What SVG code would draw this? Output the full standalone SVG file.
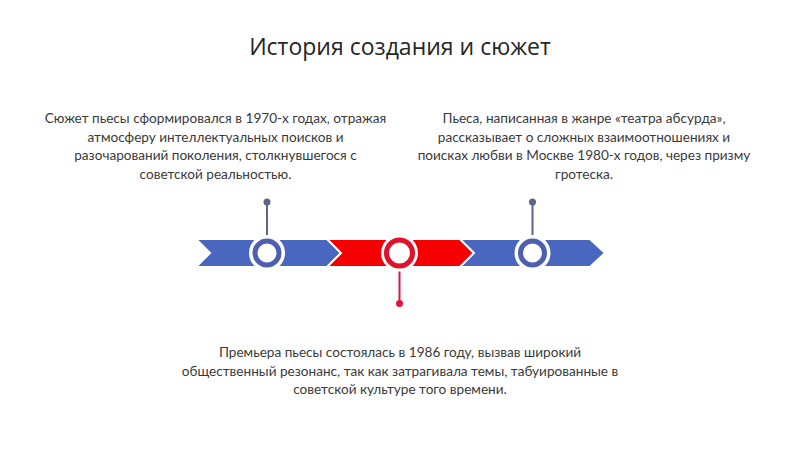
<svg xmlns="http://www.w3.org/2000/svg" width="800" height="449" viewBox="0 0 800 449">
<style>
.title{font-family:"Open Sans","Noto Sans",sans-serif;font-size:23px;fill:#262626;text-anchor:middle}
.body{font-family:Lato,"Noto Sans",sans-serif;font-size:13.6px;fill:#3a3a3a;text-anchor:middle}
.blue{fill:#4a67bf}
.red{fill:#f40000}
.seg{stroke:#ffffff;stroke-width:2;stroke-linejoin:miter}
.halo{fill:#ffffff}
.ringB{fill:#ffffff;stroke:#4f5fb0;stroke-width:5}
.ringR{fill:#ffffff;stroke:#e0112b;stroke-width:5}
.stemB{stroke:#5b6787;stroke-width:2}
.stemR{stroke:#e0143c;stroke-width:2}
</style>
<rect width="800" height="449" fill="#ffffff"/>
<text class="title" x="400" y="55">История создания и сюжет</text>
<g id="connectors">
<line class="stemB" x1="267" y1="202" x2="267" y2="240"/>
<circle cx="267" cy="202" r="3.5" fill="#5b6787"/>
<line class="stemR" x1="399.5" y1="266" x2="399.5" y2="303.5"/>
<circle cx="399.5" cy="303.5" r="3.5" fill="#e0143c"/>
<line class="stemB" x1="532.5" y1="202" x2="532.5" y2="240"/>
<circle cx="532.5" cy="202" r="3.5" fill="#5b6787"/>
</g>
<g id="timeline">
<polygon class="blue seg" points="196,239 327,239 341,253 327,267 196,267 210,253"/>
<polygon class="red seg" points="327,239 460,239 474,253 460,267 327,267 341,253"/>
<polygon class="blue seg" points="460,239 590,239 605,253 590,267 460,267 474,253"/>
</g>
<g id="node1">
<circle class="halo" cx="267" cy="253" r="18"/>
<circle class="ringB" cx="267" cy="253" r="12"/>
<text class="body" x="215.5" y="123">Сюжет пьесы сформировался в 1970-х годах, отражая</text>
<text class="body" x="215.5" y="141.5">атмосферу интеллектуальных поисков и</text>
<text class="body" x="215.5" y="160">разочарований поколения, столкнувшегося с</text>
<text class="body" x="215.5" y="178.5">советской реальностью.</text>
</g>
<g id="node2">
<circle class="halo" cx="399.5" cy="253" r="18.5"/>
<circle class="ringR" cx="399.5" cy="253" r="13"/>
<text class="body" x="400" y="357">Премьера пьесы состоялась в 1986 году, вызвав широкий</text>
<text class="body" x="400" y="375.5">общественный резонанс, так как затрагивала темы, табуированные в</text>
<text class="body" x="400" y="394">советской культуре того времени.</text>
</g>
<g id="node3">
<circle class="halo" cx="532.5" cy="253" r="18"/>
<circle class="ringB" cx="532.5" cy="253" r="12"/>
<text class="body" x="584" y="123">Пьеса, написанная в жанре «театра абсурда»,</text>
<text class="body" x="584" y="141.5">рассказывает о сложных взаимоотношениях и</text>
<text class="body" x="584" y="160">поисках любви в Москве 1980-х годов, через призму</text>
<text class="body" x="584" y="178.5">гротеска.</text>
</g>
</svg>
